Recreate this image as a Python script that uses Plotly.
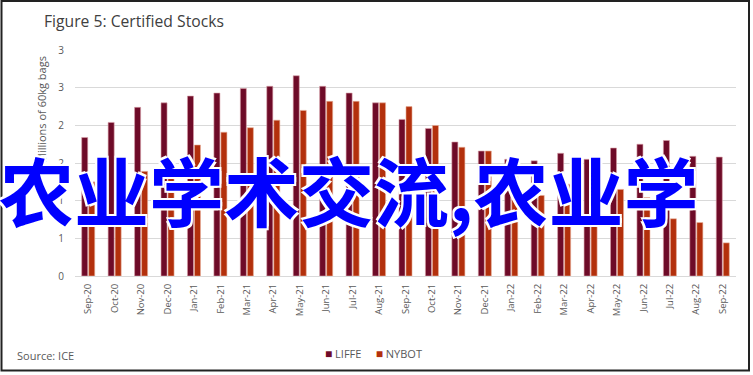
import plotly.graph_objects as go

months = ["Sep-20", "Oct-20", "Nov-20", "Dec-20", "Jan-21", "Feb-21", "Mar-21", "Apr-21",
          "May-21", "Jun-21", "Jul-21", "Aug-21", "Sep-21", "Oct-21", "Nov-21", "Dec-21",
          "Jan-22", "Feb-22", "Mar-22", "Apr-22", "May-22", "Jun-22", "Jul-22", "Aug-22", "Sep-22"]
liffe = [1.84, 2.04, 2.24, 2.30, 2.39, 2.43, 2.49, 2.52, 2.66, 2.52, 2.43, 2.30, 2.08,
         1.96, 1.78, 1.66, 1.55, 1.53, 1.63, 1.55, 1.70, 1.75, 1.80, 1.59, 1.58]
nybot = [1.25, 1.30, 1.39, 1.52, 1.74, 1.91, 1.97, 2.07, 2.20, 2.32, 2.32, 2.30, 2.25,
         2.00, 1.71, 1.66, 1.35, 1.07, 1.22, 1.19, 1.15, 1.04, 0.76, 0.71, 0.44]
y_tickvals = [0, 0.5, 1, 1.5, 2, 2.5, 3]
y_ticktext = ["0", "1", "1", "2", "2", "3", "3"]
series_names = ["LIFFE", "NYBOT"]
series_colors = ["#6E0B28", "#B3300C"]

title_text = "Figure 5: Certified Stocks"
y_title = "Millions of 60kg bags"
source_text = "Source: ICE"
watermark = "农业学术交流,农业学"

FONT = "Open Sans"
GREY = "#595959"

fig = go.Figure()
fig.add_bar(x=months, y=liffe, name=series_names[0],
            marker=dict(color=series_colors[0], line=dict(width=0.6, color="#d9a0a8")))
fig.add_bar(x=months, y=nybot, name=series_names[1],
            marker=dict(color=series_colors[1], line=dict(width=0.6, color="#e8b09a")))

fig.update_layout(
    width=753, height=375,
    margin=dict(l=75, r=17, t=50, b=99, autoexpand=False),
    paper_bgcolor="white", plot_bgcolor="white",
    barmode="group", bargap=0.47, bargroupgap=0.14,
    font=dict(family=FONT, size=10, color=GREY),
    showlegend=False,
)
fig.update_xaxes(showgrid=False, showline=True, linecolor="#d9d9d9", linewidth=1,
                 tickangle=-90, tickfont=dict(size=9.5, color=GREY), ticks="",
                 ticklabelstandoff=3, automargin=False)
fig.update_yaxes(range=[0, 3.002], tickvals=y_tickvals, ticktext=y_ticktext,
                 showgrid=True, gridcolor="#d9d9d9", gridwidth=1, zeroline=False,
                 showline=False, ticks="", tickfont=dict(size=10, color=GREY),
                 ticklabelstandoff=10, automargin=False)

def px(x):
    return (x - 75) / 661

def py(y):
    return (276 - y) / 226

legend_html = "     ".join(
    f"<span style='color:{c};font-size:12px'>■</span> {n}" for n, c in zip(series_names, series_colors))

anns = [
    dict(text=title_text, xref="paper", yref="paper", x=px(42), y=py(21),
         xanchor="left", yanchor="middle", showarrow=False,
         font=dict(family=FONT, size=15.7, color="#404040")),
    dict(text=y_title, xref="paper", yref="paper", x=px(41), y=py(110),
         textangle=-90, xanchor="center", yanchor="middle", showarrow=False,
         font=dict(family=FONT, size=11, color=GREY)),
    dict(text=source_text, xref="paper", yref="paper", x=px(15), y=py(355),
         xanchor="left", yanchor="middle", showarrow=False,
         font=dict(family=FONT, size=11, color=GREY)),
    dict(text=legend_html, xref="paper", yref="paper", x=px(373), y=py(354),
         xanchor="center", yanchor="middle", showarrow=False,
         font=dict(family=FONT, size=11, color=GREY)),
    dict(text="<b>" + watermark + "</b>", xref="paper", yref="paper", x=px(348),
         y=py(188), xanchor="center", yanchor="middle", showarrow=False,
         font=dict(family="Noto Sans CJK SC", size=75, color="#0000FF",
                   shadow="2px 2px 0 white, -2px -2px 0 white, 2px -2px 0 white, -2px 2px 0 white")),
]
fig.update_layout(annotations=anns)

fig.add_shape(type="rect", xref="paper", yref="paper",
              x0=px(1.5), x1=px(749), y0=py(370.5), y1=py(1),
              line=dict(color="#222222", width=2))

fig.write_html("out.html", config={"displayModeBar": False},
               post_script="document.body.style.margin='0px';document.body.style.overflow='hidden';")
